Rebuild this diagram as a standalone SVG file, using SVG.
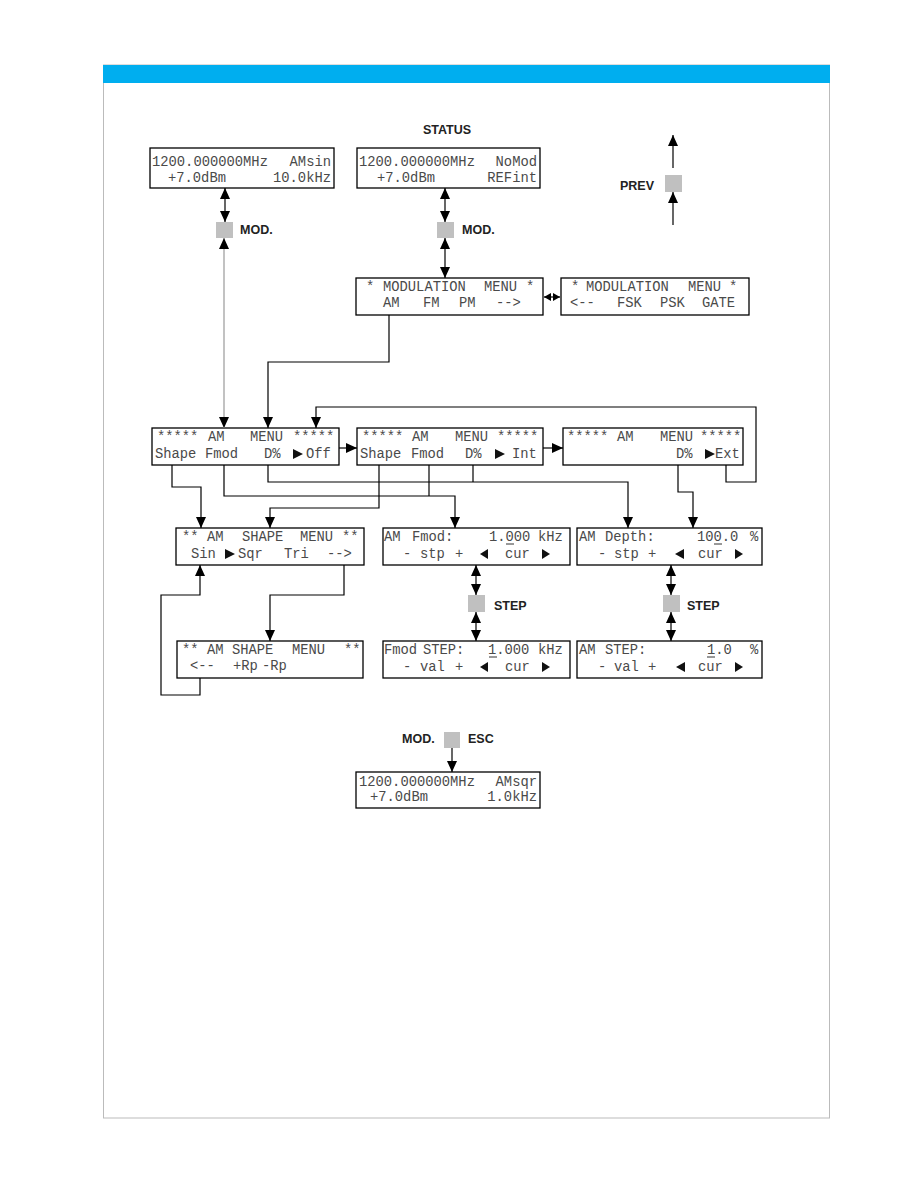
<svg xmlns="http://www.w3.org/2000/svg" width="918" height="1188" viewBox="0 0 918 1188">
<defs>
<marker id="ah" viewBox="0 0 11 10" refX="11" refY="5" markerWidth="11" markerHeight="10" markerUnits="userSpaceOnUse" orient="auto-start-reverse"><path d="M0,0 L11,5 L0,10 z" fill="#000"/></marker>
<marker id="ahs" viewBox="0 0 7 8" refX="7" refY="4" markerWidth="7" markerHeight="8" markerUnits="userSpaceOnUse" orient="auto-start-reverse"><path d="M0,0 L7,4 L0,8 z" fill="#000"/></marker>
</defs>
<style>
.lcd{fill:#fff;stroke:#000;stroke-width:1.3}
.t{font-family:"Liberation Mono","Courier New",monospace;font-size:13.8px;fill:#4a4a4a}
.e{text-anchor:end}
.lbl{font-family:"Liberation Sans",Arial,sans-serif;font-weight:bold;font-size:12.5px;fill:#222}
.key{fill:#c0c0c0}
.c{fill:none;stroke:#000;stroke-width:1.2}
.g{fill:none;stroke:#999;stroke-width:1.2}
.tri{fill:#111}
.ul{stroke:#333;stroke-width:1}
</style>
<rect x="0" y="0" width="918" height="1188" fill="#fff"/>
<g id="page">
<rect x="103.5" y="65" width="726" height="1053" fill="none" stroke="#bbb" stroke-width="1"/>
<rect x="103" y="65" width="727" height="18" fill="#00aeef"/>
</g>

<g id="labels">
<text class="lbl" x="447" y="134" text-anchor="middle">STATUS</text>
<text class="lbl" x="240" y="234">MOD.</text>
<text class="lbl" x="462" y="234">MOD.</text>
<text class="lbl" x="620" y="190">PREV</text>
<text class="lbl" x="494" y="610">STEP</text>
<text class="lbl" x="687" y="610">STEP</text>
<text class="lbl" x="402" y="743">MOD.</text>
<text class="lbl" x="468" y="743">ESC</text>
</g>

<g id="keys">
<rect class="key" x="216" y="222" width="17" height="16"/>
<rect class="key" x="437" y="222" width="17" height="16"/>
<rect class="key" x="665" y="175" width="17" height="17"/>
<rect class="key" x="468" y="595" width="17" height="17"/>
<rect class="key" x="663" y="595" width="17" height="17"/>
<rect class="key" x="444" y="732" width="16" height="16"/>
</g>

<g id="status-amsin">
<rect class="lcd" x="150" y="148" width="184" height="40"/>
<text class="t" x="152" y="166">1200.000000MHz</text>
<text class="t e" x="331" y="166">AMsin</text>
<text class="t" x="168" y="182">+7.0dBm</text>
<text class="t e" x="331" y="182">10.0kHz</text>
</g>

<g id="status-nomod">
<rect class="lcd" x="357" y="148" width="183" height="40"/>
<text class="t" x="359" y="166">1200.000000MHz</text>
<text class="t e" x="537" y="166">NoMod</text>
<text class="t" x="377" y="182">+7.0dBm</text>
<text class="t e" x="537" y="182">REFint</text>
</g>

<g id="mod-menu-1">
<rect class="lcd" x="356" y="278" width="187" height="37"/>
<text class="t" x="366" y="291">*</text>
<text class="t" x="383" y="291">MODULATION</text>
<text class="t" x="484" y="291">MENU</text>
<text class="t" x="526" y="291">*</text>
<text class="t" x="383" y="307">AM</text>
<text class="t" x="423" y="307">FM</text>
<text class="t" x="459" y="307">PM</text>
<text class="t" x="496" y="307">--&gt;</text>
</g>

<g id="mod-menu-2">
<rect class="lcd" x="561" y="278" width="188" height="37"/>
<text class="t" x="571" y="291">*</text>
<text class="t" x="586" y="291">MODULATION</text>
<text class="t" x="688" y="291">MENU</text>
<text class="t" x="729" y="291">*</text>
<text class="t" x="570" y="307">&lt;--</text>
<text class="t" x="617" y="307">FSK</text>
<text class="t" x="660" y="307">PSK</text>
<text class="t" x="702" y="307">GATE</text>
</g>

<g id="am-menu-off">
<rect class="lcd" x="152" y="428" width="187" height="37"/>
<text class="t" x="157" y="441">*****</text>
<text class="t" x="208" y="441">AM</text>
<text class="t" x="250" y="441">MENU</text>
<text class="t" x="293" y="441">*****</text>
<text class="t" x="155" y="458">Shape</text>
<text class="t" x="205" y="458">Fmod</text>
<text class="t" x="264" y="458">D%</text>
<polygon class="tri" points="293,449 303,454 293,459"/>
<text class="t" x="306" y="458">Off</text>
</g>

<g id="am-menu-int">
<rect class="lcd" x="357" y="428" width="186" height="37"/>
<text class="t" x="362" y="441">*****</text>
<text class="t" x="412" y="441">AM</text>
<text class="t" x="455" y="441">MENU</text>
<text class="t" x="497" y="441">*****</text>
<text class="t" x="360" y="458">Shape</text>
<text class="t" x="411" y="458">Fmod</text>
<text class="t" x="465" y="458">D%</text>
<polygon class="tri" points="495,449 505,454 495,459"/>
<text class="t" x="512" y="458">Int</text>
</g>

<g id="am-menu-ext">
<rect class="lcd" x="563" y="428" width="180" height="37"/>
<text class="t" x="567" y="441">*****</text>
<text class="t" x="617" y="441">AM</text>
<text class="t" x="660" y="441">MENU</text>
<text class="t" x="700" y="441">*****</text>
<text class="t" x="676" y="458">D%</text>
<polygon class="tri" points="705,449 715,454 705,459"/>
<text class="t" x="715" y="458">Ext</text>
</g>

<g id="am-shape-menu-1">
<rect class="lcd" x="176" y="528" width="188" height="37"/>
<text class="t" x="182" y="541">**</text>
<text class="t" x="207" y="541">AM</text>
<text class="t" x="242" y="541">SHAPE</text>
<text class="t" x="300" y="541">MENU</text>
<text class="t" x="342" y="541">**</text>
<text class="t" x="191" y="558">Sin</text>
<polygon class="tri" points="225,549 235,554 225,559"/>
<text class="t" x="238" y="558">Sqr</text>
<text class="t" x="284" y="558">Tri</text>
<text class="t" x="327" y="558">--&gt;</text>
</g>

<g id="am-fmod">
<rect class="lcd" x="383" y="528" width="187" height="37"/>
<text class="t" x="384" y="541">AM</text>
<text class="t" x="412" y="541">Fmod:</text>
<text class="t" x="489" y="541">1.000</text>
<line class="ul" x1="506" y1="544" x2="514" y2="544"/>
<text class="t" x="538" y="541">kHz</text>
<text class="t" x="403" y="558">-</text>
<text class="t" x="420" y="558">stp</text>
<text class="t" x="455" y="558">+</text>
<polygon class="tri" points="488,549 480,554 488,559"/>
<text class="t" x="505" y="558">cur</text>
<polygon class="tri" points="542,549 550,554 542,559"/>
</g>

<g id="am-depth">
<rect class="lcd" x="577" y="528" width="185" height="37"/>
<text class="t" x="579" y="541">AM</text>
<text class="t" x="605" y="541">Depth:</text>
<text class="t" x="697" y="541">100.0</text>
<line class="ul" x1="714" y1="544" x2="722" y2="544"/>
<text class="t" x="750" y="541">%</text>
<text class="t" x="598" y="558">-</text>
<text class="t" x="614" y="558">stp</text>
<text class="t" x="648" y="558">+</text>
<polygon class="tri" points="684,549 675,554 684,559"/>
<text class="t" x="698" y="558">cur</text>
<polygon class="tri" points="735,549 743,554 735,559"/>
</g>

<g id="fmod-step">
<rect class="lcd" x="383" y="641" width="187" height="37"/>
<text class="t" x="384" y="654">Fmod</text>
<text class="t" x="423" y="654">STEP:</text>
<text class="t" x="488" y="654">1.000</text>
<line class="ul" x1="489" y1="657" x2="497" y2="657"/>
<text class="t" x="538" y="654">kHz</text>
<text class="t" x="403" y="671">-</text>
<text class="t" x="420" y="671">val</text>
<text class="t" x="455" y="671">+</text>
<polygon class="tri" points="488,662 480,667 488,672"/>
<text class="t" x="505" y="671">cur</text>
<polygon class="tri" points="542,662 550,667 542,672"/>
</g>

<g id="am-step">
<rect class="lcd" x="577" y="641" width="185" height="37"/>
<text class="t" x="579" y="654">AM</text>
<text class="t" x="605" y="654">STEP:</text>
<text class="t" x="707" y="654">1.0</text>
<line class="ul" x1="707" y1="657" x2="715" y2="657"/>
<text class="t" x="750" y="654">%</text>
<text class="t" x="598" y="671">-</text>
<text class="t" x="614" y="671">val</text>
<text class="t" x="648" y="671">+</text>
<polygon class="tri" points="685,662 676,667 685,672"/>
<text class="t" x="698" y="671">cur</text>
<polygon class="tri" points="735,662 743,667 735,672"/>
</g>

<g id="am-shape-menu-2">
<rect class="lcd" x="177" y="641" width="186" height="37"/>
<text class="t" x="182" y="654">**</text>
<text class="t" x="207" y="654">AM</text>
<text class="t" x="232" y="654">SHAPE</text>
<text class="t" x="292" y="654">MENU</text>
<text class="t" x="344" y="654">**</text>
<text class="t" x="190" y="670">&lt;--</text>
<text class="t" x="233" y="670">+Rp</text>
<text class="t" x="262" y="670">-Rp</text>
</g>

<g id="status-amsqr">
<rect class="lcd" x="356" y="772" width="184" height="36"/>
<text class="t" x="359" y="786">1200.000000MHz</text>
<text class="t e" x="537" y="786">AMsqr</text>
<text class="t" x="370" y="801">+7.0dBm</text>
<text class="t e" x="537" y="801">1.0kHz</text>
</g>

<g id="connectors">
<path class="c" d="M225,188 V222" marker-start="url(#ah)" marker-end="url(#ah)"/>
<path class="g" d="M224,238 V428" marker-start="url(#ah)" marker-end="url(#ah)"/>
<path class="c" d="M445,188 V222" marker-start="url(#ah)" marker-end="url(#ah)"/>
<path class="c" d="M445,238 V278" marker-start="url(#ah)" marker-end="url(#ah)"/>
<path class="c" d="M544,297 H560" marker-start="url(#ahs)" marker-end="url(#ahs)"/>
<path class="c" d="M389,315 V362 H268 V428" marker-end="url(#ah)"/>
<path class="c" d="M726,465 V482 H756 V407 H316 V428" marker-end="url(#ah)"/>
<path class="c" d="M339,448 H357" marker-end="url(#ah)"/>
<path class="c" d="M543,448 H563" marker-end="url(#ah)"/>
<path class="c" d="M172,465 V487 H201 V528" marker-end="url(#ah)"/>
<path class="c" d="M224,465 V496 H455 V528" marker-end="url(#ah)"/>
<path class="c" d="M429,465 V496"/>
<path class="c" d="M379,465 V508 H270 V528" marker-end="url(#ah)"/>
<path class="c" d="M268,465 V482 H628 V528" marker-end="url(#ah)"/>
<path class="c" d="M473,465 V482"/>
<path class="c" d="M678,465 V492 H693 V528" marker-end="url(#ah)"/>
<path class="c" d="M344,565 V595 H270 V641" marker-end="url(#ah)"/>
<path class="c" d="M200,678 V695 H161 V595 H200 V565" marker-end="url(#ah)"/>
<path class="c" d="M476,565 V595" marker-start="url(#ah)" marker-end="url(#ah)"/>
<path class="c" d="M476,612 V641" marker-start="url(#ah)" marker-end="url(#ah)"/>
<path class="c" d="M671,565 V595" marker-start="url(#ah)" marker-end="url(#ah)"/>
<path class="c" d="M671,612 V641" marker-start="url(#ah)" marker-end="url(#ah)"/>
<path class="c" d="M673,168 V135" marker-end="url(#ah)"/>
<path class="c" d="M673,225 V192" marker-end="url(#ah)"/>
<path class="c" d="M452,748 V772" marker-end="url(#ah)"/>
</g>
</svg>
